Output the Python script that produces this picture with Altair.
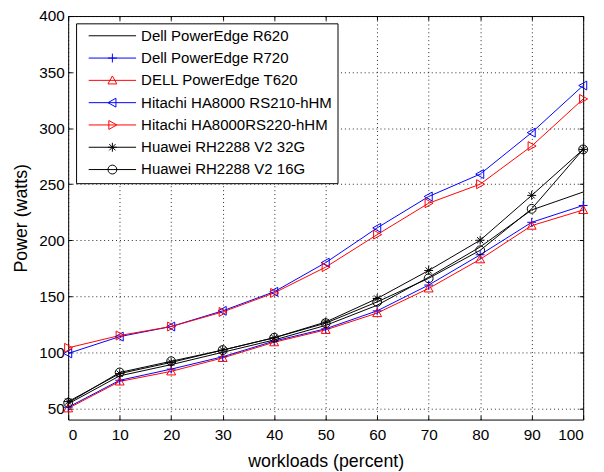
import altair as alt
import pandas as pd

# ---------------- data ----------------
workloads = [0, 10, 20, 30, 40, 50, 60, 70, 80, 90, 100]
series_names = [
    "Dell PowerEdge R620",
    "Dell PowerEdge R720",
    "DELL PowerEdge T620",
    "Hitachi HA8000 RS210-hHM",
    "Hitachi HA8000RS220-hHM",
    "Huawei RH2288 V2 32G",
    "Huawei RH2288 V2 16G",
]
dell_r620 = [54, 79, 89, 100, 111, 124, 142, 167, 194, 227, 243]
dell_r720 = [51, 75, 85, 96, 110, 121, 137, 160, 187, 216, 231]
dell_t620 = [50, 74, 83, 95, 109, 120, 135, 157, 183, 213, 227]
hitachi_rs210 = [99, 114, 123, 137, 154, 180, 211, 239, 259, 296, 338]
hitachi_rs220 = [104, 115, 123, 136, 153, 176, 205, 233, 250, 284, 326]
huawei_32g = [56, 81, 91, 102, 113, 127, 148, 173, 200, 240, 281]
huawei_16g = [55, 82, 92, 102, 113, 126, 145, 166, 191, 228, 281]
x_ticks = [0, 10, 20, 30, 40, 50, 60, 70, 80, 90, 100]
y_ticks = [50, 100, 150, 200, 250, 300, 350, 400]

all_series = [dell_r620, dell_r720, dell_t620, hitachi_rs210, hitachi_rs220, huawei_32g, huawei_16g]
rows = []
for name, vals in zip(series_names, all_series):
    for w, v in zip(workloads, vals):
        rows.append({"workload": w, "power": v, "series": name})
df = pd.DataFrame(rows)

# ---------------- styles ----------------
colors = ["#000000", "#0000ff", "#ff0000", "#0000ff", "#ff0000", "#000000", "#000000"]


def marker(kind, o=0.0):
    if kind == "none":
        return ""
    if kind == "plus":
        return f"M{o-1},0H{o+1}M{o},-1V1"
    if kind == "tri_up":
        return f"M{o},-1L{o+1},0.8L{o-1},0.8Z"
    if kind == "tri_left":
        return f"M{o-1},0L{o+0.8},-1L{o+0.8},1Z"
    if kind == "tri_right":
        return f"M{o+1},0L{o-0.8},-1L{o-0.8},1Z"
    if kind == "star":
        return (f"M{o-1},0H{o+1}M{o},-1V1M{o-0.7},-0.7L{o+0.7},0.7"
                f"M{o-0.7},0.7L{o+0.7},-0.7")
    if kind == "circle":
        return f"M{o+1},0A1,1,0,1,1,{o-1},0A1,1,0,1,1,{o+1},0Z"


kinds = ["none", "plus", "tri_up", "tri_left", "tri_right", "star", "circle"]
L0, L1 = -1.0, 9.67
mid = round((L0 + L1) / 2, 3)
legend_paths = [f"M{L0},0H{L1}" + marker(k, mid) for k in kinds]

FONT = "Liberation Sans"
W, H = 522, 409

xscale = alt.Scale(domain=[0, 100], nice=False, zero=False)
yscale = alt.Scale(domain=[40, 400], nice=False, zero=False)

stroke_enc = alt.Stroke("series:N", scale=alt.Scale(domain=series_names, range=colors), legend=None)

main_x_axis = alt.Axis(values=x_ticks, title="workloads (percent)", grid=True, ticks=False,
                       domain=False, labelPadding=8, titlePadding=10, format="d")
main_y_axis = alt.Axis(values=y_ticks, title="Power (watts)", grid=True, ticks=False,
                       domain=False, labelPadding=4, titlePadding=8, format="d")


def tick_axis(orient, vals):
    return alt.Axis(orient=orient, values=vals, labels=False, grid=False, domain=False,
                    ticks=True, tickSize=4, offset=-4, title=None)


# legend-only layer (invisible marks, first so its legend encode wins)
legend_layer = alt.Chart(df).mark_point(filled=False, strokeWidth=1, size=81, opacity=0).encode(
    x=alt.X("workload:Q", scale=xscale, axis=tick_axis("top", x_ticks)),
    y=alt.Y("power:Q", scale=yscale, axis=tick_axis("right", y_ticks)),
    color=alt.Color("series:N", scale=alt.Scale(domain=series_names, range=colors),
                    legend=alt.Legend(title=None)),
    shape=alt.Shape("series:N", scale=alt.Scale(domain=series_names, range=legend_paths),
                    legend=alt.Legend(title=None)),
)

lines = alt.Chart(df).mark_line(strokeWidth=1).encode(
    x=alt.X("workload:Q", scale=xscale, axis=main_x_axis),
    y=alt.Y("power:Q", scale=yscale, axis=main_y_axis),
    stroke=stroke_enc,
    detail="series:N",
)

point_layers = []
first = True
for name, kind in zip(series_names, kinds):
    if kind == "none":
        continue
    if first:
        xa, ya = tick_axis("bottom", x_ticks), tick_axis("left", y_ticks)
        first = False
    else:
        xa, ya = None, None
    point_layers.append(
        alt.Chart(df).transform_filter(alt.datum.series == name).mark_point(
            filled=False, strokeWidth=1, size=81, opacity=1, shape=marker(kind)
        ).encode(
            x=alt.X("workload:Q", scale=xscale, axis=xa),
            y=alt.Y("power:Q", scale=yscale, axis=ya),
            stroke=stroke_enc,
        )
    )

chart = alt.layer(legend_layer, lines, *point_layers).resolve_axis(
    x="independent", y="independent"
).properties(
    width=W, height=H,
    autosize=alt.AutoSizeParams(type="none"),
    padding={"left": 61, "top": 5, "right": 13, "bottom": 50},
).configure_view(
    stroke="#000000", strokeWidth=1
).configure_axis(
    labelFont=FONT, labelFontSize=15.5, labelColor="#000000",
    titleFont=FONT, titleFontSize=18, titleColor="#000000", titleFontWeight="normal",
    gridColor="#000000", gridDash=[1, 3], gridOpacity=0.85, gridWidth=1,
    tickColor="#000000", tickWidth=1,
).configure_legend(
    orient="none", legendX=8, legendY=7.4,
    padding=5, strokeColor="#000000", fillColor="#ffffff", cornerRadius=0,
    labelFont=FONT, labelFontSize=15.2, labelColor="#000000", labelLimit=400,
    labelOffset=41, symbolOffset=4.7, rowPadding=6.6,
    symbolSize=81, symbolStrokeWidth=1, symbolOpacity=1, symbolFillColor="transparent",
)

chart.save("out.html", embed_options={"renderer": "svg", "actions": False})
